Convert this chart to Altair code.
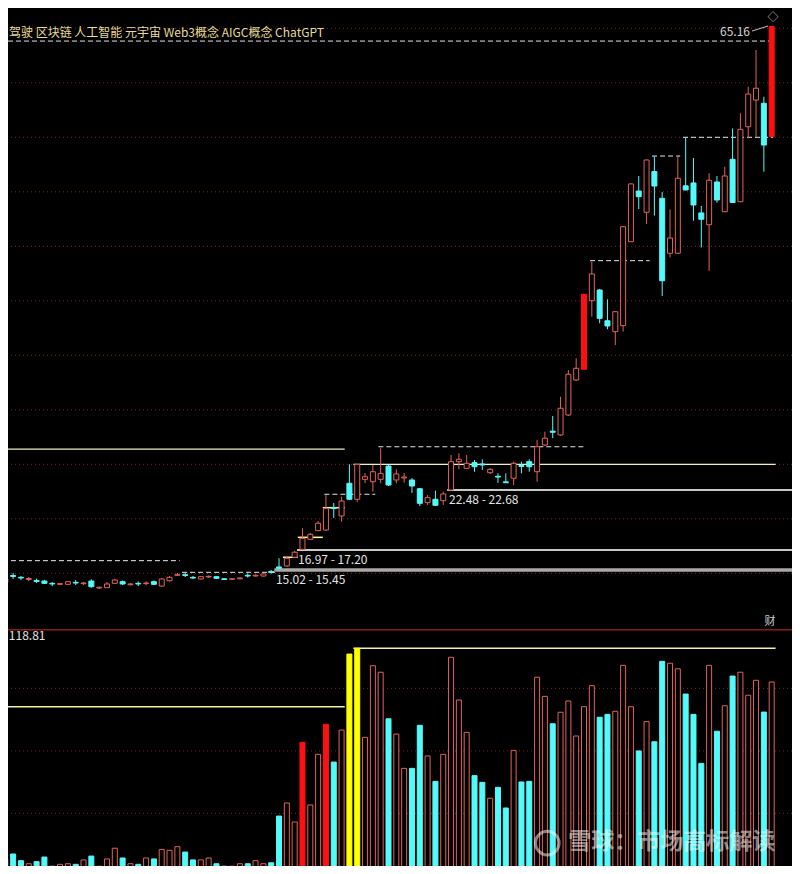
import altair as alt
import pandas as pd

# ---------------- data ----------------
opens = [
    14.20, 14.17, 14.80, 14.63, 14.43, 14.34, 14.29, 14.08, 13.99, 13.99,
    14.17, 14.05, 14.29, 13.65, 13.68, 14.08, 14.23, 13.95, 14.08, 14.05,
    14.23, 13.83, 14.32, 14.82, 14.87, 14.63, 14.48, 14.66, 14.69, 14.50,
    14.45, 14.50, 14.82, 14.75, 14.75, 15.17, 15.58, 15.67, 16.47, 17.20,
    18.12, 18.91, 18.97, 21.04, 20.26, 23.26, 21.79, 23.62, 23.40, 23.62,
    24.84, 23.56, 23.74, 23.56, 22.76, 21.48, 21.79, 21.66, 22.64, 25.24,
    24.63, 25.15, 25.03, 24.23, 23.90, 23.39, 23.72, 24.89, 25.24, 24.32,
    26.77, 28.04, 27.69, 29.52, 32.73, 33.72, 40.01, 40.99, 38.17, 37.17,
    37.72, 45.42, 50.07, 48.12, 51.86, 49.40, 44.36, 44.36, 50.55, 50.81,
    48.06, 46.98, 50.90, 48.17, 52.98, 49.09, 55.97, 58.42, 58.12, 55.06,
]
closes = [
    14.39, 14.48, 14.71, 14.57, 14.52, 14.25, 14.08, 14.02, 14.05, 14.23,
    14.11, 14.11, 13.77, 13.72, 14.02, 14.39, 14.02, 14.02, 14.02, 14.11,
    13.99, 14.48, 14.63, 14.87, 14.80, 14.57, 14.69, 14.72, 14.54, 14.43,
    14.50, 14.57, 14.75, 14.82, 14.94, 15.07, 15.46, 16.38, 16.93, 18.21,
    18.58, 19.59, 20.96, 20.94, 21.63, 21.79, 25.00, 23.86, 24.32, 24.17,
    23.10, 24.11, 23.83, 23.01, 21.42, 21.94, 21.24, 22.28, 25.24, 25.46,
    25.09, 24.78, 24.94, 24.54, 23.83, 23.31, 25.09, 24.80, 24.78, 26.61,
    27.39, 27.94, 30.14, 33.26, 33.81, 40.60, 42.46, 38.39, 37.69, 39.00,
    46.80, 50.72, 49.55, 52.92, 50.53, 41.84, 45.76, 51.24, 50.17, 48.79,
    47.48, 51.06, 49.25, 51.45, 49.02, 55.73, 58.97, 59.50, 54.29, 65.16,
]
highs = [
    14.57, 14.66, 15.03, 14.75, 14.66, 14.52, 14.39, 14.20, 14.11, 14.29,
    14.39, 14.20, 14.45, 13.79, 14.20, 14.48, 14.34, 14.11, 14.25, 14.27,
    14.34, 14.57, 14.75, 15.03, 15.03, 14.75, 14.75, 14.80, 14.75, 14.57,
    14.57, 14.61, 14.98, 14.89, 14.98, 15.30, 16.38, 16.50, 17.05, 19.13,
    18.70, 19.80, 22.18, 21.45, 22.03, 25.00, 25.03, 24.20, 24.94, 26.47,
    24.94, 24.54, 24.20, 23.74, 22.83, 22.18, 22.58, 22.49, 25.85, 26.01,
    25.85, 25.39, 25.46, 24.66, 24.17, 24.17, 25.24, 25.24, 25.46, 27.23,
    27.99, 29.43, 31.20, 33.65, 34.72, 40.60, 43.59, 41.08, 40.14, 39.06,
    46.86, 50.78, 51.45, 52.96, 53.26, 49.98, 48.39, 53.26, 55.00, 53.10,
    48.70, 51.70, 51.45, 52.30, 55.81, 57.20, 59.64, 63.01, 58.72, 65.16,
]
lows = [
    14.02, 14.02, 14.48, 14.39, 14.29, 14.11, 14.02, 13.83, 13.93, 13.93,
    13.93, 13.93, 13.68, 13.56, 13.65, 14.02, 13.93, 13.88, 13.83, 13.88,
    13.93, 13.79, 14.25, 14.75, 14.66, 14.48, 14.43, 14.57, 14.48, 14.39,
    14.39, 14.43, 14.61, 14.71, 14.71, 14.98, 15.44, 15.62, 16.40, 17.14,
    18.06, 18.88, 18.88, 20.07, 19.73, 21.72, 21.54, 23.28, 22.49, 23.26,
    23.01, 23.26, 23.31, 22.37, 21.17, 21.27, 21.17, 21.27, 22.60, 24.54,
    24.57, 24.32, 24.48, 24.11, 23.31, 23.29, 23.10, 24.17, 24.32, 23.40,
    26.68, 27.39, 27.60, 29.43, 32.64, 33.72, 38.54, 37.94, 37.39, 35.94,
    37.17, 45.39, 48.42, 47.05, 47.81, 40.44, 43.99, 44.34, 50.12, 47.35,
    44.89, 42.76, 49.00, 48.15, 48.97, 49.06, 54.91, 55.06, 51.84, 55.06,
]
volumes = [
    7.9, 8.8, 11.4, 7.9, 6.3, 7.4, 9.8, 5.0, 6.0, 6.3,
    6.0, 8.3, 10.3, 5.0, 8.8, 14.4, 9.3, 6.3, 6.0, 9.3,
    8.8, 13.8, 13.3, 15.2, 12.4, 8.3, 8.3, 9.3, 6.3, 5.0,
    5.0, 6.3, 6.3, 7.9, 6.3, 6.8, 31.2, 38.0, 28.1, 69.7,
    37.0, 63.4, 79.1, 59.4, 76.1, 115.8, 118.81, 72.3, 109.7, 106.3,
    82.0, 74.0, 56.1, 56.1, 78.6, 62.6, 49.3, 63.4, 114.1, 91.8,
    74.9, 52.3, 48.8, 40.5, 46.2, 35.4, 65.5, 49.0, 49.3, 103.7,
    93.7, 79.4, 85.4, 91.3, 73.0, 88.3, 99.3, 82.8, 84.3, 85.9,
    109.9, 88.3, 65.2, 80.5, 70.0, 112.0, 111.0, 108.1, 94.9, 84.3,
    58.7, 109.9, 75.5, 88.8, 104.3, 106.3, 94.3, 102.1, 85.5, 101.2,
]
limit_up_days = [75, 99]
vol_special = {39: "red", 42: "red", 45: "yellow", 46: "yellow"}

price_grid = [15, 20, 25, 30, 35, 40, 45, 50, 55, 60, 65]
vol_grid = [32.6, 65.2, 97.9]

# reference levels: start index, end index, price
dash_start = [0.32, 87.66, 83.7, 75.77, 48.7, 41.8, 0.7, 23.6]
dash_end = [99.17, 99.17, 87.3, 83.4, 75.1, 48.3, 23.3, 35.5]
dash_price = [63.83, 55.00, 53.28, 43.68, 26.61, 22.25, 16.16, 15.09]

cream_start = [0.32, 45.5]
cream_end = [44.4, 99.5]
cream_price = [26.40, 25.00]

band_start = [57.5, 38.3]
band_end = [102.6, 102.6]
band_price = [22.64, 17.14]
band_thick = {"s": 35.4, "e": 102.6, "p": 15.30}

ystep_start = [36.5, 38.4, 41.6]
ystep_end = [38.4, 41.6, 44.4]
ystep_price = [16.47, 18.30, 21.02]

vline_start = [0.32, 45.5]
vline_end = [44.4, 99.5]
vline_val = [88.3, 118.81]

band_labels = ["16.97 - 17.20", "15.02 - 15.45", "22.48 - 22.68"]
top_label = "驾驶 区块链 人工智能 元宇宙 Web3概念 AIGC概念 ChatGPT"
max_label = "65.16"
vol_label = "118.81"
watermark = "雪球：市场高标解读"

# ---------------- tables ----------------
n = len(opens)
idx = list(range(n))
kind = ["limit" if i in limit_up_days else ("up" if closes[i] >= opens[i] else "down") for i in idx]
vkind = [vol_special.get(i, "up" if closes[i] >= opens[i] else "down") for i in idx]
candles = pd.DataFrame(dict(i=idx, open=opens, high=highs, low=lows, close=closes, kind=kind))
vol = pd.DataFrame(dict(i=idx, vol=volumes, vkind=vkind))

# ---------------- style ----------------
FONT = "Noto Sans CJK SC"
W, H_TOP, H_VOL = 784, 621, 237
UP, DOWN, LIM, YEL = "#E2625C", "#54FAFA", "#FF1010", "#FFFF00"
GRID = "#7E2424"

X = alt.Scale(domain=[1.3427, 101.598], nice=False, zero=False, padding=0)
YP = alt.Scale(domain=[9.890, 66.862], nice=False, zero=False, padding=0)
YV = alt.Scale(domain=[5.12, 128.88], nice=False, zero=False, padding=0)

KINDS = ["up", "down", "limit", "red", "yellow"]
stroke_scale = alt.Scale(domain=KINDS, range=[UP, DOWN, LIM, LIM, YEL])
fill_scale = alt.Scale(domain=KINDS, range=["#000000", DOWN, LIM, LIM, YEL])


def seg(starts, ends, vals, yscale, **kw):
    df = pd.DataFrame(dict(s=starts, e=ends, v=vals))
    return alt.Chart(df).mark_rule(clip=True, **kw).encode(
        x=alt.X("s:Q", scale=X, axis=None),
        x2="e:Q",
        y=alt.Y("v:Q", scale=yscale, axis=None),
    )


def label(rows, yscale, **kw):
    df = pd.DataFrame(rows, columns=["x", "v", "t"])
    return alt.Chart(df).mark_text(clip=True, font=FONT, baseline="middle", **kw).encode(
        x=alt.X("x:Q", scale=X, axis=None),
        y=alt.Y("v:Q", scale=yscale, axis=None),
        text="t:N",
    )


# ---------------- price panel ----------------
grid_p = alt.Chart(pd.DataFrame({"p": price_grid})).mark_rule(
    color=GRID, strokeDash=[1, 3], strokeWidth=1, clip=True
).encode(y=alt.Y("p:Q", scale=YP, axis=None))

dashed = seg(dash_start, dash_end, dash_price, YP, color="#E6E6E6", strokeDash=[5, 3], strokeWidth=1)
cream = seg(cream_start, cream_end, cream_price, YP, color="#EEEEC0", strokeWidth=1.2)
bands = seg(band_start, band_end, band_price, YP, color="#C8C8C8", strokeWidth=2)
thick = seg([band_thick["s"]], [band_thick["e"]], [band_thick["p"]], YP, color="#A8A8A8", strokeWidth=3.5)
ysteps = seg(ystep_start, ystep_end, ystep_price, YP, color="#FFFF90", strokeWidth=1.5)

cbase = alt.Chart(candles)
wicks = cbase.mark_rule(strokeWidth=1, clip=True).encode(
    x=alt.X("i:Q", scale=X, axis=None),
    y=alt.Y("low:Q", scale=YP, axis=None),
    y2="high:Q",
    stroke=alt.Stroke("kind:N", scale=stroke_scale, legend=None),
)
bodies = cbase.mark_bar(size=5, strokeWidth=1, opacity=1, clip=True).encode(
    x=alt.X("i:Q", scale=X, axis=None),
    y=alt.Y("open:Q", scale=YP, axis=None),
    y2="close:Q",
    fill=alt.Fill("kind:N", scale=fill_scale, legend=None),
    stroke=alt.Stroke("kind:N", scale=stroke_scale, legend=None),
)

band_text = label(
    [[38.43, 16.22, band_labels[0]], [35.6, 14.34, band_labels[1]], [57.74, 21.72, band_labels[2]]],
    YP, align="left", fontSize=12, color="#E4E4E4",
)
top_text = label([[1.47, 64.57, top_label]], YP, align="left", fontSize=12, color="#E6DC96")
max_text = label([[96.23, 64.69, max_label]], YP, align="right", fontSize=12, color="#D4D4D4")
misc_text = label([[99.17, 65.95, "◇"], [98.8, 10.55, "财"]], YP, align="center", fontSize=11, color="#C8C8D8")
arrow = alt.Chart(pd.DataFrame(dict(s=[96.48], e=[98.53], a=[64.75], b=[65.21]))).mark_rule(
    color="#C0C0C0", strokeWidth=1, clip=True
).encode(
    x=alt.X("s:Q", scale=X, axis=None), x2="e:Q",
    y=alt.Y("a:Q", scale=YP, axis=None), y2="b:Q",
)

top = alt.layer(
    grid_p, dashed, cream, bands, thick, ysteps, wicks, bodies,
    band_text, top_text, max_text, misc_text, arrow,
).properties(width=W, height=H_TOP)

# ---------------- volume panel ----------------
grid_v = alt.Chart(pd.DataFrame({"v": vol_grid})).mark_rule(
    color=GRID, strokeDash=[1, 3], strokeWidth=1, clip=True
).encode(y=alt.Y("v:Q", scale=YV, axis=None))

vlines = seg(vline_start, vline_end, vline_val, YV, color="#F2F2A0", strokeWidth=1.5)

vbars = alt.Chart(vol).mark_bar(size=5, strokeWidth=1, opacity=1, clip=True).encode(
    x=alt.X("i:Q", scale=X, axis=None),
    y=alt.Y("vol:Q", scale=YV, axis=None),
    y2=alt.datum(0),
    fill=alt.Fill("vkind:N", scale=fill_scale, legend=None),
    stroke=alt.Stroke("vkind:N", scale=stroke_scale, legend=None),
)

sep = alt.Chart(pd.DataFrame({"v": [0]})).mark_rule(color="#8C1C1C", strokeWidth=1.5, clip=True).encode(
    y=alt.value(0.75)
)

vol_text = label([[1.45, 125.2, vol_label]], YV, align="left", fontSize=12, color="#E0E0E0")
wm_text = label([[73.0, 17.6, watermark]], YV, align="left", fontSize=23, fontWeight="bold",
                color="#FFFFFF", opacity=0.5)
wm_logo = alt.Chart(pd.DataFrame(dict(x=[70.3], v=[17.1]))).mark_point(
    shape="circle", size=560, filled=False, color="#FFFFFF", strokeWidth=3, opacity=0.5, clip=True
).encode(x=alt.X("x:Q", scale=X, axis=None), y=alt.Y("v:Q", scale=YV, axis=None))

bottom = alt.layer(grid_v, vlines, vbars, sep, vol_text, wm_logo, wm_text).properties(
    width=W, height=H_VOL
)

chart = (
    alt.vconcat(top, bottom, spacing=0)
    .resolve_scale(fill="independent", stroke="independent")
    .properties(padding=0, background="#000000")
    .configure_view(stroke=None)
)

chart.save("out.html", embed_options={"renderer": "svg", "actions": False})
